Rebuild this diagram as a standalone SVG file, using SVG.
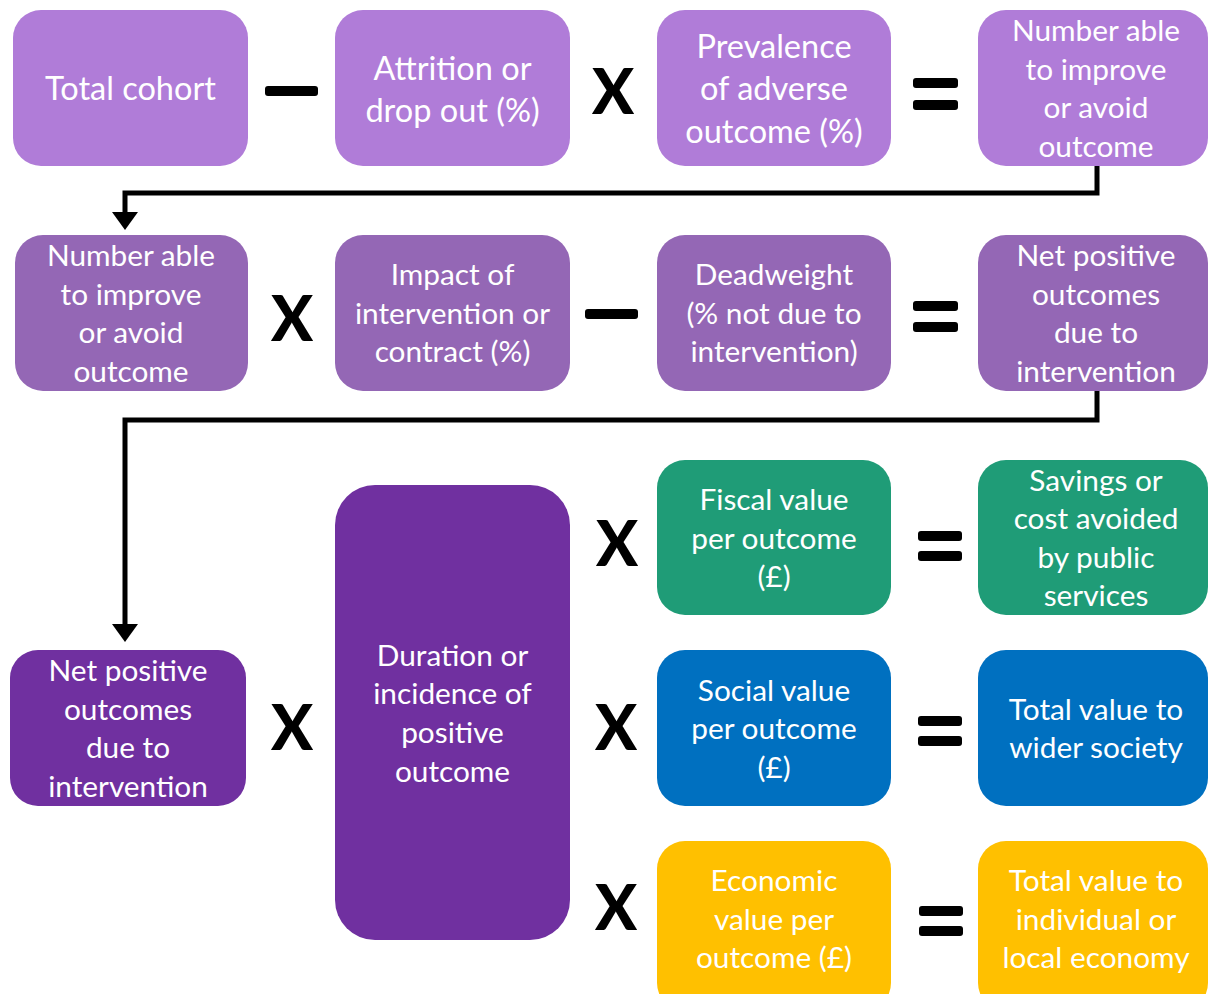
<svg xmlns="http://www.w3.org/2000/svg" width="1208" height="994" viewBox="0 0 1208 994">
<style>
.box{stroke:none}
.l1{fill:#B07CD8}.l2{fill:#9467B5}.dk{fill:#7030A0}.gr{fill:#1F9C77}.bl{fill:#0070C0}.yl{fill:#FFC000}
.t{font-family:Lato,"Open Sans",sans-serif;font-size:29.8px;fill:#fff;text-anchor:middle}
.tb{font-size:32.5px}
.op{font-family:Lato,"DejaVu Sans",sans-serif;font-weight:900;font-size:62px;fill:#000;text-anchor:middle}
.bar{fill:#000}
.con{fill:none;stroke:#000;stroke-width:5}
</style>
<defs>
<marker id="ah" markerUnits="userSpaceOnUse" markerWidth="18" markerHeight="26" viewBox="0 0 18 26" refX="14" refY="13" orient="auto">
<path d="M0,0 L18,13 L0,26 z" fill="#000"/>
</marker>
</defs>
<rect width="1208" height="994" fill="#fff"/>
<g id="connectors">
<path class="con" d="M1097,166 V193 H125 V226" marker-end="url(#ah)"/>
<path class="con" d="M1097,390 V420 H125 V638" marker-end="url(#ah)"/>
</g>
<g id="n1"><rect class="box l1" x="13" y="10" width="235" height="156" rx="28"/>
<text class="t tb" x="130.5" y="100">Total cohort</text></g>
<g id="n2"><rect class="box l1" x="335" y="10" width="235" height="156" rx="28"/>
<text class="t tb" x="452.5" y="80">Attrition or</text><text class="t tb" x="452.5" y="122">drop out (%)</text></g>
<g id="n3"><rect class="box l1" x="657" y="10" width="234" height="156" rx="28"/>
<text class="t tb" x="774" y="58">Prevalence</text><text class="t tb" x="774" y="100">of adverse</text><text class="t tb" x="774" y="143">outcome (%)</text></g>
<g id="n4"><rect class="box l1" x="978" y="10" width="230" height="156" rx="28"/>
<text class="t" x="1096" y="41">Number able</text><text class="t" x="1096" y="80">to improve</text><text class="t" x="1096" y="118">or avoid</text><text class="t" x="1096" y="157">outcome</text></g>

<g id="n5"><rect class="box l2" x="15" y="235" width="233" height="156" rx="28"/>
<text class="t" x="131" y="266">Number able</text><text class="t" x="131" y="305">to improve</text><text class="t" x="131" y="343">or avoid</text><text class="t" x="131" y="382">outcome</text></g>
<g id="n6"><rect class="box l2" x="335" y="235" width="235" height="156" rx="28"/>
<text class="t" x="452.5" y="285">Impact of</text><text class="t" x="452.5" y="324">intervention or</text><text class="t" x="452.5" y="362">contract (%)</text></g>
<g id="n7"><rect class="box l2" x="657" y="235" width="234" height="156" rx="28"/>
<text class="t" x="774" y="285">Deadweight</text><text class="t" x="774" y="324">(% not due to</text><text class="t" x="774" y="362">intervention)</text></g>
<g id="n8"><rect class="box l2" x="978" y="235" width="230" height="156" rx="28"/>
<text class="t" x="1096" y="266">Net positive</text><text class="t" x="1096" y="305">outcomes</text><text class="t" x="1096" y="343">due to</text><text class="t" x="1096" y="382">intervention</text></g>

<g id="n9"><rect class="box dk" x="10" y="650" width="236" height="156" rx="28"/>
<text class="t" x="128" y="681">Net positive</text><text class="t" x="128" y="720">outcomes</text><text class="t" x="128" y="758">due to</text><text class="t" x="128" y="797">intervention</text></g>
<g id="n10"><rect class="box dk" x="335" y="485" width="235" height="455" rx="40"/>
<text class="t" x="452.5" y="666">Duration or</text><text class="t" x="452.5" y="704">incidence of</text><text class="t" x="452.5" y="743">positive</text><text class="t" x="452.5" y="782">outcome</text></g>

<g id="n11"><rect class="box gr" x="657" y="460" width="234" height="155" rx="28"/>
<text class="t" x="774" y="510">Fiscal value</text><text class="t" x="774" y="549">per outcome</text><text class="t" x="774" y="587">(£)</text></g>
<g id="n12"><rect class="box gr" x="978" y="460" width="230" height="155" rx="28"/>
<text class="t" x="1096" y="491">Savings or</text><text class="t" x="1096" y="529">cost avoided</text><text class="t" x="1096" y="568">by public</text><text class="t" x="1096" y="606">services</text></g>
<g id="n13"><rect class="box bl" x="657" y="650" width="234" height="156" rx="28"/>
<text class="t" x="774" y="701">Social value</text><text class="t" x="774" y="739">per outcome</text><text class="t" x="774" y="778">(£)</text></g>
<g id="n14"><rect class="box bl" x="978" y="650" width="230" height="156" rx="28"/>
<text class="t" x="1096" y="720">Total value to</text><text class="t" x="1096" y="758">wider society</text></g>
<g id="n15"><rect class="box yl" x="657" y="841" width="234" height="170" rx="28"/>
<text class="t" x="774" y="891">Economic</text><text class="t" x="774" y="930">value per</text><text class="t" x="774" y="968">outcome (£)</text></g>
<g id="n16"><rect class="box yl" x="978" y="841" width="230" height="170" rx="28"/>
<text class="t" x="1096" y="891">Total value to</text><text class="t" x="1096" y="930">individual or</text><text class="t" x="1096" y="968">local economy</text></g>

<g id="operators">
<rect class="bar" x="265" y="86" width="53" height="10" rx="3"/>
<text class="op" x="613" y="114">X</text>
<rect class="bar" x="913" y="78" width="45" height="10" rx="3"/><rect class="bar" x="913" y="100" width="45" height="10" rx="3"/>

<text class="op" x="292" y="341">X</text>
<rect class="bar" x="585" y="309" width="53" height="10" rx="3"/>
<rect class="bar" x="913" y="301" width="45" height="10" rx="3"/><rect class="bar" x="913" y="322" width="45" height="10" rx="3"/>

<text class="op" x="292" y="750">X</text>
<text class="op" x="617" y="566">X</text>
<rect class="bar" x="918" y="531" width="44" height="10" rx="3"/><rect class="bar" x="918" y="551" width="44" height="10" rx="3"/>
<text class="op" x="616" y="750">X</text>
<rect class="bar" x="918" y="716" width="44" height="10" rx="3"/><rect class="bar" x="918" y="736" width="44" height="10" rx="3"/>
<text class="op" x="616" y="930">X</text>
<rect class="bar" x="919" y="906" width="44" height="10" rx="3"/><rect class="bar" x="919" y="926" width="44" height="10" rx="3"/>
</g>
</svg>
